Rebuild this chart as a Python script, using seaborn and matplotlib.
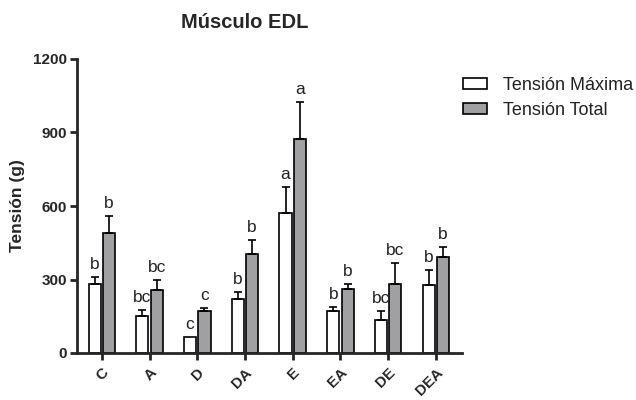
import numpy as np
import pandas as pd
import matplotlib
matplotlib.use("Agg")
import matplotlib.pyplot as plt
import seaborn as sns

groups = ["C", "A", "D", "DA", "E", "EA", "DE", "DEA"]
series = ["Tensión Máxima", "Tensión Total"]

max_mean = [282, 151, 65, 220, 570, 171, 135, 278]
max_err = [28, 25, 0, 30, 108, 17, 36, 61]
max_letters = ["b", "bc", "c", "b", "a", "b", "bc", "b"]

total_mean = [490, 257, 171, 404, 873, 261, 282, 392]
total_err = [70, 41, 12, 56, 151, 21, 85, 41]
total_letters = ["b", "bc", "c", "b", "a", "b", "bc", "b"]

df = pd.DataFrame({
    "grupo": groups * 2,
    "serie": [series[0]] * len(groups) + [series[1]] * len(groups),
    "valor": max_mean + total_mean,
})

sns.set_theme(style="ticks")
plt.rcParams["font.family"] = ["Liberation Sans", "DejaVu Sans"]

fig = plt.figure(figsize=(6.36, 4.0), dpi=100)
ax = fig.add_axes([0.121, 0.1175, 0.605, 0.735])

sns.barplot(
    data=df, x="grupo", y="valor", hue="serie",
    palette=["white", "#a0a0a2"], edgecolor="black", linewidth=1.2,
    width=0.6, gap=0.15, errorbar=None, ax=ax,
)

# bars come out series by series, so patches line up with the lists
bars = ax.patches[: 2 * len(groups)]
errs = max_err + total_err
letters = max_letters + total_letters
for p, e, lab in zip(bars, errs, letters):
    xc = p.get_x() + p.get_width() / 2
    h = p.get_height()
    if e > 0:
        ax.errorbar(xc, h, yerr=[[0], [e]], fmt="none", ecolor="black",
                    elinewidth=1.2, capsize=3, capthick=1.2)
    ax.text(xc, h + e + 20, lab, ha="center", va="bottom", fontsize=12.5,
            color="#222222")

ax.set_ylim(0, 1200)
ax.set_xlim(-0.52, 7.54)
ax.set_yticks([0, 300, 600, 900, 1200])
sns.despine(ax=ax)
for s in ["left", "bottom"]:
    ax.spines[s].set_linewidth(2)
ax.tick_params(axis="both", width=2, length=5, direction="out", pad=2)
ax.tick_params(axis="x", pad=4)
ax.set_xticks(range(len(groups)))
ax.set_xticklabels(groups, rotation=45, fontweight="bold", fontsize=11,
                   ha="right", rotation_mode="anchor")
for lab in ax.get_yticklabels():
    lab.set_fontweight("bold")
    lab.set_fontsize(11)
ax.set_xlabel("")
ax.set_ylabel("Tensión (g)", fontweight="bold", fontsize=12.5)
ax.yaxis.set_label_coords(-0.135, 0.5)

fig.text(245 / 636, 0.945, "Músculo EDL", ha="center", va="center",
         fontweight="bold", fontsize=14.5)

ax.legend(loc="upper left", bbox_to_anchor=(0.728, 0.808),
          bbox_transform=fig.transFigure, frameon=False, fontsize=13,
          handlelength=1.33, handleheight=0.6, handletextpad=0.9,
          labelspacing=0.45, borderpad=0, borderaxespad=0,
          labelcolor="#222222")

fig.savefig("out.png", dpi=100)
